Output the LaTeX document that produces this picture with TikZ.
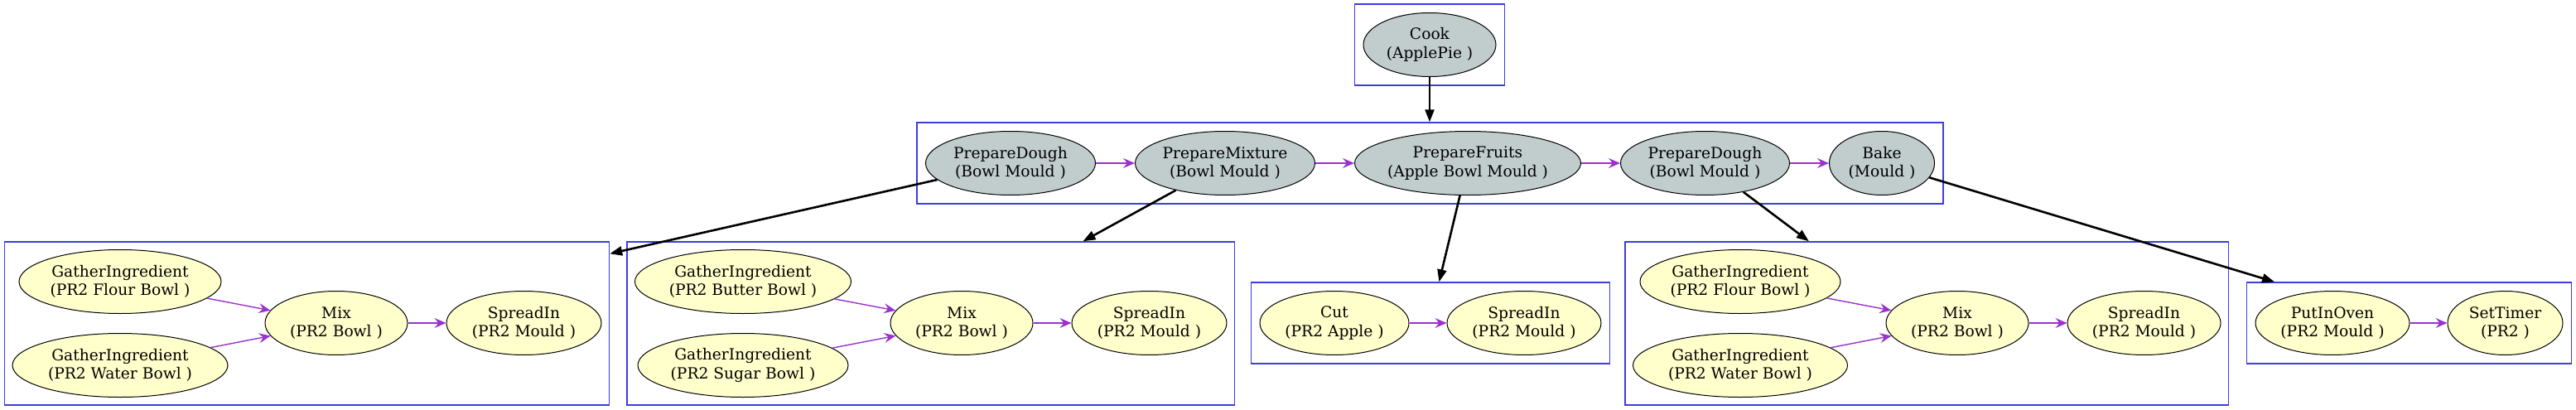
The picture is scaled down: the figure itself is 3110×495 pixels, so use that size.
\documentclass[tikz,border=0pt]{standalone}
\usepackage{fontspec}
\setmainfont{DejaVu Serif}
\usetikzlibrary{arrows.meta, positioning, shapes.geometric, fit, calc}
\usepackage{xcolor}
\definecolor{plangray}{RGB}{193,205,205}
\definecolor{taskyellow}{RGB}{255,255,204}
\definecolor{clusterblue}{RGB}{60,60,225}
\definecolor{orderpurple}{RGB}{153,50,204}

\begin{document}
\begin{tikzpicture}[x=1pt,y=1pt,font=\fontsize{18.67pt}{22.4pt}\selectfont,
    plan/.style={ellipse,draw,line width=1pt,fill=plangray,align=center,inner xsep=-4pt,inner ysep=5.3pt,minimum height=77pt},
    task/.style={plan,fill=taskyellow},
    cluster/.style={draw=clusterblue,line width=1.4pt,inner sep=10pt},
    order/.style={-{Stealth[length=14pt,width=12pt,inset=5pt]},orderpurple,line width=1.4pt},
    expand/.style={-{Triangle[length=15pt,width=11pt]},line width=2.6pt}]
    \useasboundingbox (0,0) rectangle (3110,-495);
    \node[plan,minimum width=160pt](cook) at (1726,-54){Cook\\(ApplePie )};
    \node[plan,minimum width=205pt](dough) at (1220,-197){PrepareDough\\(Bowl Mould )};
    \node[plan,minimum width=217pt,right=47pt of dough](mixture){PrepareMixture\\(Bowl Mould )};
    \node[plan,minimum width=273pt,right=47pt of mixture](fruits){PrepareFruits\\(Apple Bowl Mould )};
    \node[plan,minimum width=204pt,right=47pt of fruits](dough2){PrepareDough\\(Bowl Mould )};
    \node[plan,minimum width=127pt,right=47pt of dough2](bake){Bake\\(Mould )};
    \node[task,minimum width=244pt](flour1) at (145,-340){GatherIngredient\\(PR2 Flour Bowl )};
    \node[task,minimum width=260pt,below=23pt of flour1](water1){GatherIngredient\\(PR2 Water Bowl )};
    \node[task,minimum width=172pt](mix1) at (406,-390){Mix\\(PR2 Bowl )};
    \node[task,minimum width=187pt,right=46pt of mix1](spread1){SpreadIn\\(PR2 Mould )};
    \node[task,minimum width=261pt](butter) at (897,-340){GatherIngredient\\(PR2 Butter Bowl )};
    \node[task,minimum width=254pt,below=23pt of butter](sugar){GatherIngredient\\(PR2 Sugar Bowl )};
    \node[task,minimum width=172pt](mix2) at (1161,-390){Mix\\(PR2 Bowl )};
    \node[task,minimum width=187pt,right=46pt of mix2](spread2){SpreadIn\\(PR2 Mould )};
    \node[task,minimum width=180pt](cut) at (1611,-390){Cut\\(PR2 Apple )};
    \node[task,minimum width=186pt,right=45pt of cut](spread3){SpreadIn\\(PR2 Mould )};
    \node[task,minimum width=242pt](flour4) at (2101,-340){GatherIngredient\\(PR2 Flour Bowl )};
    \node[task,minimum width=259pt,below=23pt of flour4](water4){GatherIngredient\\(PR2 Water Bowl )};
    \node[task,minimum width=172pt](mix4) at (2363,-390){Mix\\(PR2 Bowl )};
    \node[task,minimum width=185pt,right=46pt of mix4](spread4){SpreadIn\\(PR2 Mould )};
    \node[task,minimum width=186pt](oven) at (2816,-390){PutInOven\\(PR2 Mould )};
    \node[task,minimum width=139pt,right=45pt of oven](timer){SetTimer\\(PR2 )};
    \node[cluster,fit=(cook)](cookbox){};
    \node[cluster,fit=(dough)(mixture)(fruits)(dough2)(bake)](planbox){};
    \node[cluster,inner sep=9pt,fit=(flour1)(water1)(mix1)(spread1)](box1){};
    \node[cluster,inner sep=9pt,fit=(butter)(sugar)(mix2)(spread2)](box2){};
    \node[cluster,fit=(cut)(spread3)](box3){};
    \node[cluster,inner sep=9pt,fit=(flour4)(water4)(mix4)(spread4)](box4){};
    \node[cluster,fit=(oven)(timer)](box5){};
    \draw[order](dough)--(mixture);
    \draw[order](mixture)--(fruits);
    \draw[order](fruits)--(dough2);
    \draw[order](dough2)--(bake);
    \draw[order](flour1)--(mix1);
    \draw[order](water1)--(mix1);
    \draw[order](mix1)--(spread1);
    \draw[order](butter)--(mix2);
    \draw[order](sugar)--(mix2);
    \draw[order](mix2)--(spread2);
    \draw[order](cut)--(spread3);
    \draw[order](flour4)--(mix4);
    \draw[order](water4)--(mix4);
    \draw[order](mix4)--(spread4);
    \draw[order](oven)--(timer);
    \draw[expand](cook)--(cook|-planbox.north);
    \draw[expand](dough)--($(box1.north east)+(0,-15)$);
    \draw[expand](mixture)--($(box2.north west)!0.75!(box2.north east)$);
    \draw[expand](fruits)--($(box3.north west)!0.524!(box3.north east)$);
    \draw[expand](dough2)--($(box4.north west)!0.305!(box4.north east)$);
    \draw[expand](bake)--($(box5.north west)!0.087!(box5.north east)$);
  \end{tikzpicture}
\end{document}
